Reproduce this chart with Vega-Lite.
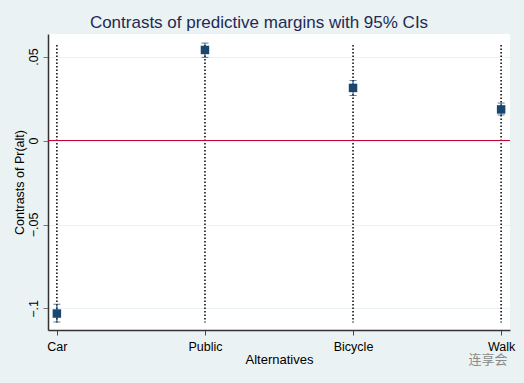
{
"$schema":"https://vega.github.io/schema/vega-lite/v6.json",
"width":462,"height":296,
"autosize":{"type":"none"},
"padding":{"left":48,"top":34,"right":14,"bottom":53},
"background":"#eaf2f3",
"view":{"fill":"#ffffff","stroke":null},
"title":{"text":"Contrasts of predictive margins with 95% CIs","font":"Liberation Sans","fontSize":17,"fontWeight":"normal","color":"#1e2a55","anchor":"middle","dx":-20,"offset":2},
"config":{"font":"Liberation Sans"},
"data":{"values":[
{"alt":"Car","est":-0.103,"lo":-0.108,"hi":-0.0975,"top":0.0568,"bottom":-0.1083},
{"alt":"Public","est":0.0539,"lo":0.0495,"hi":0.058,"top":0.0568,"bottom":-0.1083},
{"alt":"Bicycle","est":0.0313,"lo":0.0268,"hi":0.0357,"top":0.0568,"bottom":-0.1083},
{"alt":"Walk","est":0.0185,"lo":0.0152,"hi":0.0223,"top":0.0568,"bottom":-0.1083}
]},
"encoding":{
"x":{"field":"alt","type":"nominal","sort":["Car","Public","Bicycle","Walk"],
"scale":{"type":"point","padding":0.06},
"axis":{"title":"Alternatives","labelAngle":0,"labelFont":"Liberation Sans","labelFontSize":12.5,"labelColor":"#000000","titleFont":"Liberation Sans","titleFontSize":13,"titleFontWeight":"normal","titleColor":"#000000","titlePadding":1,"labelPadding":5,"tickSize":5,"tickColor":"#444444","domainColor":"#333333","domainWidth":1.5,"grid":false}}
},
"layer":[
{"mark":{"type":"rule","color":"#000000","strokeWidth":1.5,"strokeDash":[1.5,2]},
"encoding":{"y":{"field":"top","type":"quantitative",
"scale":{"domain":[-0.1128,0.0634],"nice":false,"zero":false},
"axis":{"title":"Contrasts of Pr(alt)","values":[-0.1,-0.05,0,0.05],"labelExpr":"datum.value==0?'0':replace(format(datum.value,'.2~f'),'0.','.')","labelAngle":-90,"labelAlign":"center","labelBaseline":"bottom","labelFont":"Liberation Sans","labelFontSize":12.5,"labelColor":"#000000","labelPadding":3,"titleFont":"Liberation Sans","titleFontSize":12.5,"titleFontWeight":"normal","titleColor":"#000000","titlePadding":1,"tickSize":5,"tickColor":"#777777","domainColor":"#333333","domainWidth":1.5,"grid":true,"gridColor":"#eaf2f3","gridWidth":1.2}},
"y2":{"field":"bottom"}}},
{"mark":{"type":"rule","color":"#c10534","strokeWidth":1.2},"encoding":{"x":{},"y":{"datum":0,"type":"quantitative"}}},
{"mark":{"type":"rule","color":"#1a476f","strokeWidth":1},"encoding":{"y":{"field":"lo","type":"quantitative"},"y2":{"field":"hi"}}},
{"mark":{"type":"tick","color":"#1a476f","size":7,"thickness":1},"encoding":{"y":{"field":"lo","type":"quantitative"}}},
{"mark":{"type":"tick","color":"#1a476f","size":7,"thickness":1},"encoding":{"y":{"field":"hi","type":"quantitative"}}},
{"mark":{"type":"square","color":"#1a476f","opacity":1,"size":72},"encoding":{"y":{"field":"est","type":"quantitative"}}},
{"data":{"values":[{"alt":"Walk","wm":"连享会","y":-0.1128}]},
"mark":{"type":"text","font":"Noto Sans CJK SC","fontSize":13,"color":"#8a8a8a","dx":-13,"dy":30},
"encoding":{"y":{"field":"y","type":"quantitative"},"text":{"field":"wm"}}}
]
}
